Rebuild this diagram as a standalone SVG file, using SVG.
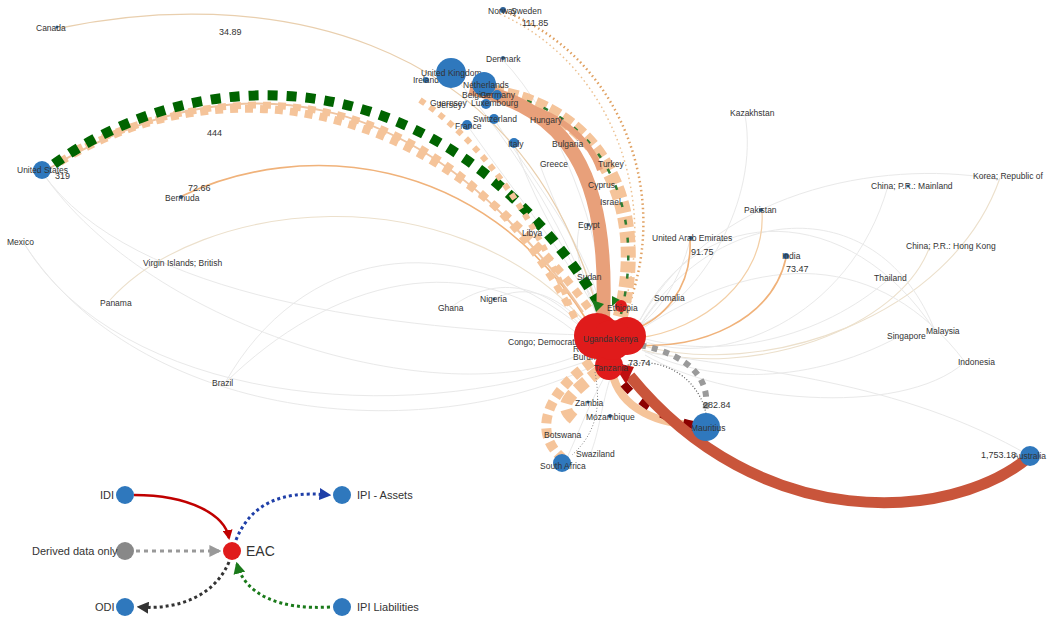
<svg xmlns="http://www.w3.org/2000/svg" width="1049" height="624" viewBox="0 0 1049 624">
<style>
text{font-family:"Liberation Sans",Arial,sans-serif;}
.lbl{font-size:8.5px;fill:#333;}
.num{font-size:9px;fill:#333;}
.leg{font-size:11px;fill:#333;}
.faint{fill:none;stroke:#e9e9e9;stroke-width:1;}
.beige{fill:none;stroke:#ece0cc;stroke-width:1.1;}
.blue{fill:#2f78bd;}
.dot{fill:#2b5f94;}
.red{fill:#e01b1b;}
</style>
<defs>
<marker id="mRed" viewBox="0 0 10 10" refX="8" refY="5" markerWidth="4" markerHeight="4" orient="auto"><path d="M0 0L10 5L0 10z" fill="#c00000"/></marker>
<marker id="mBlue" viewBox="0 0 10 10" refX="8" refY="5" markerWidth="4" markerHeight="4" orient="auto"><path d="M0 0L10 5L0 10z" fill="#1f3fa8"/></marker>
<marker id="mGray" viewBox="0 0 10 10" refX="8" refY="5" markerWidth="4" markerHeight="4" orient="auto"><path d="M0 0L10 5L0 10z" fill="#999"/></marker>
<marker id="mDark" viewBox="0 0 10 10" refX="8" refY="5" markerWidth="4" markerHeight="4" orient="auto"><path d="M0 0L10 5L0 10z" fill="#333"/></marker>
<marker id="mGreen" viewBox="0 0 10 10" refX="8" refY="5" markerWidth="4" markerHeight="4" orient="auto"><path d="M0 0L10 5L0 10z" fill="#1a7a1a"/></marker>
</defs>
<rect width="1049" height="624" fill="#fff"/>
<g id="connectors">
<path class="faint" d="M42 172 C150 330 450 420 590 350"/>
<path class="faint" d="M42 172 C130 300 400 330 585 335"/>
<path class="faint" d="M25 245 C120 400 400 430 590 360"/>
<path class="faint" d="M25 245 C140 420 420 450 595 365"/>
<path class="faint" d="M225 383 C300 250 450 220 585 330"/>
<path class="faint" d="M225 383 C330 280 470 240 585 340"/>
<path class="beige" d="M110 300 C200 200 450 170 585 322"/>
<path class="faint" d="M450 308 C500 270 550 290 580 325"/>
<path class="faint" d="M492 300 C530 280 560 300 582 322"/>
<path class="beige" d="M1000 178 C950 320 760 380 640 345"/>
<path class="faint" d="M888 186 C850 320 720 370 640 340"/>
<path class="beige" d="M930 246 C900 330 750 380 642 350"/>
<path class="faint" d="M890 278 C820 340 720 360 642 338"/>
<path class="faint" d="M935 331 C850 200 700 200 640 320"/>
<path class="faint" d="M900 336 C800 390 700 380 642 350"/>
<path class="faint" d="M965 362 C900 420 720 400 645 355"/>
<path class="faint" d="M640 320 C720 180 900 160 1000 180"/>
<path class="faint" d="M640 325 C720 200 880 190 935 331"/>
<path class="faint" d="M745 115 C760 200 700 300 640 325"/>
<path class="faint" d="M1030 456 C900 380 750 370 645 352"/>
<path class="faint" d="M640 330 C760 250 880 250 965 362"/>
<path class="faint" d="M467 125 C520 200 570 260 598 315"/>
<path class="faint" d="M514 143 C540 220 580 270 600 314"/>
<path class="faint" d="M450 72 C520 150 570 240 596 314"/>
<path class="faint" d="M502 59 C560 120 600 230 606 314"/>
<path class="faint" d="M494 119 C540 190 590 250 602 314"/>
<path class="faint" d="M580 225 C570 260 590 290 604 314"/>
<path class="faint" d="M540 165 C560 220 590 270 600 314"/>
<path class="faint" d="M610 368 C590 400 580 430 566 460"/>
<path class="faint" d="M612 372 C600 410 600 430 590 455"/>
<path class="faint" d="M690 240 C680 280 660 310 640 325"/>
<path class="faint" d="M660 300 C650 310 645 320 640 325"/>
<path d="M60 28 C250 -12 520 20 598 312" fill="none" stroke="#e9cfae" stroke-width="1.3"/>
<path d="M182 196 C300 140 480 150 588 322" fill="none" stroke="#f0b27a" stroke-width="1.6"/>
<path d="M690 240 C692 290 662 320 632 330" fill="none" stroke="#f0b27a" stroke-width="1.6"/>
<path d="M786 258 C772 320 700 350 636 345" fill="none" stroke="#f0b27a" stroke-width="1.6"/>
<path d="M762 212 C766 280 702 330 638 338" fill="none" stroke="#f3cfa6" stroke-width="1.2"/>
<path d="M506 12 C625 60 672 200 626 312" fill="none" stroke="#e0a060" stroke-width="2.5" stroke-dasharray="1.5 3"/>
<path d="M500 14 C612 64 660 200 622 312" fill="none" stroke="#ecc090" stroke-width="1.5" stroke-dasharray="1.5 3"/>
<path d="M60 162 C200 75 420 75 590 310" fill="none" stroke="#f5c49a" stroke-width="8" stroke-dasharray="8 7"/>
<path d="M50 168 C230 60 420 75 583 312" fill="none" stroke="#f0c4a0" stroke-width="2"/>
<path d="M75 150 C260 60 460 100 575 318" fill="none" stroke="#f5c49a" stroke-width="7" stroke-dasharray="8 7"/>
<path d="M54 164 C200 60 440 50 600 305" fill="none" stroke="#006400" stroke-width="10" stroke-dasharray="10 9"/>
<path d="M420 100 C480 140 540 220 575 320" fill="none" stroke="#f5c49a" stroke-width="6" stroke-dasharray="6 6"/>
<path d="M492 92 C605 110 648 210 620 318" fill="none" stroke="#f5c49a" stroke-width="15" stroke-dasharray="11 4"/>
<path d="M492 92 C605 110 648 210 620 318" fill="none" stroke="#2e7d32" stroke-width="2.5" stroke-dasharray="5 13"/>
<path d="M470 88 C565 108 610 170 603 318" fill="none" stroke="#e8a07a" stroke-width="14"/>
<path d="M500 100 C560 110 590 140 600 170" fill="none" stroke="#e8a07a" stroke-width="6"/>
<path d="M592 362 C550 390 530 430 562 458" fill="none" stroke="#f5c49a" stroke-width="10" stroke-dasharray="9 5"/>
<path d="M600 370 C570 395 555 405 575 420" fill="none" stroke="#f5c49a" stroke-width="12" stroke-dasharray="12 6"/>
<path d="M612 372 C620 410 660 425 700 425" fill="none" stroke="#f5c49a" stroke-width="8"/>
<path d="M640 345 C690 355 712 380 705 412" fill="none" stroke="#9a9a9a" stroke-width="6" stroke-dasharray="6 6"/>
<path d="M622 367 C662 352 700 380 706 414" fill="none" stroke="#555" stroke-width="1.2" stroke-dasharray="1 2"/>
<path d="M595 372 C600 400 600 430 572 455" fill="none" stroke="#888" stroke-width="1" stroke-dasharray="1 2"/>
<path d="M693 425 C668 420 640 405 622 382" fill="none" stroke="#8b0000" stroke-width="8" stroke-dasharray="10 14"/>
<path d="M1028 458 C950 522 760 535 630 376" fill="none" stroke="#c9553b" stroke-width="11"/>
<path d="M612 362 L634 367 L626 384 z" fill="#c01010"/>
<path d="M592 300 L604 304 L596 312 z" fill="#1a7a1a"/>
<path d="M612 296 L620 300 L612 306 z" fill="#1a7a1a"/>
</g>
<g id="node-canada"><circle class="dot" cx="57" cy="27" r="1.5"/><text class="lbl" x="36" y="31">Canada</text></g>
<g id="node-us"><circle class="blue" cx="42" cy="170" r="9"/><text class="lbl" x="17" y="173">United States</text></g>
<g id="node-bermuda"><circle class="dot" cx="181" cy="197" r="2"/><text class="lbl" x="165" y="201">Bermuda</text></g>
<g id="node-mexico"><text class="lbl" x="7" y="245">Mexico</text></g>
<g id="node-vi"><text class="lbl" x="143" y="266">Virgin Islands; British</text></g>
<g id="node-panama"><text class="lbl" x="100" y="306">Panama</text></g>
<g id="node-brazil"><text class="lbl" x="212" y="386">Brazil</text></g>
<g id="node-ghana"><text class="lbl" x="438" y="311">Ghana</text></g>
<g id="node-nigeria"><circle class="dot" cx="494" cy="299" r="1.5"/><text class="lbl" x="480" y="302">Nigeria</text></g>
<g id="node-norway"><circle class="dot" cx="503" cy="10" r="3"/><text class="lbl" x="488" y="14">Norway</text></g>
<g id="node-sweden"><text class="lbl" x="511" y="14">Sweden</text></g>
<g id="node-denmark"><circle class="dot" cx="503" cy="58" r="2"/><text class="lbl" x="486" y="62">Denmark</text></g>
<g id="node-ireland"><circle class="blue" cx="426" cy="80" r="3"/><text class="lbl" x="413" y="83">Ireland</text></g>
<g id="node-uk"><circle class="blue" cx="451" cy="73" r="15"/><text class="lbl" x="421" y="76">United Kingdom</text></g>
<g id="node-netherlands"><circle class="blue" cx="484" cy="84" r="12"/><text class="lbl" x="463" y="88">Netherlands</text></g>
<g id="node-germany"><circle class="blue" cx="497" cy="95" r="5"/><text class="lbl" x="480" y="98">Germany</text></g>
<g id="node-belgium"><text class="lbl" x="462" y="98">Belgium</text></g>
<g id="node-luxembourg"><circle class="blue" cx="486" cy="104" r="5"/><text class="lbl" x="471" y="106">Luxembourg</text></g>
<g id="node-guernsey"><text class="lbl" x="430" y="106">Guernsey</text></g>
<g id="node-jersey"><text class="lbl" x="437" y="108">Jersey</text></g>
<g id="node-switzerland"><circle class="blue" cx="494" cy="119" r="5"/><text class="lbl" x="473" y="122">Switzerland</text></g>
<g id="node-france"><circle class="blue" cx="467" cy="125" r="5"/><text class="lbl" x="455" y="129">France</text></g>
<g id="node-hungary"><text class="lbl" x="530" y="123">Hungary</text></g>
<g id="node-italy"><circle class="blue" cx="514" cy="143" r="5"/><text class="lbl" x="508" y="147">Italy</text></g>
<g id="node-bulgaria"><text class="lbl" x="552" y="147">Bulgaria</text></g>
<g id="node-greece"><text class="lbl" x="540" y="167">Greece</text></g>
<g id="node-turkey"><text class="lbl" x="598" y="167">Turkey</text></g>
<g id="node-cyprus"><text class="lbl" x="588" y="188">Cyprus</text></g>
<g id="node-israel"><text class="lbl" x="600" y="205">Israel</text></g>
<g id="node-egypt"><circle class="dot" cx="588" cy="225" r="1.5"/><text class="lbl" x="578" y="228">Egypt</text></g>
<g id="node-libya"><text class="lbl" x="522" y="236">Libya</text></g>
<g id="node-sudan"><text class="lbl" x="577" y="280">Sudan</text></g>
<g id="node-somalia"><text class="lbl" x="654" y="301">Somalia</text></g>
<g id="node-uae"><circle class="dot" cx="691" cy="238" r="2"/><text class="lbl" x="652" y="241">United Arab Emirates</text></g>
<g id="node-pakistan"><circle class="dot" cx="761" cy="210" r="2"/><text class="lbl" x="744" y="213">Pakistan</text></g>
<g id="node-india"><circle class="dot" cx="786" cy="256" r="3"/><text class="lbl" x="782" y="259">India</text></g>
<g id="node-kazakhstan"><text class="lbl" x="730" y="116">Kazakhstan</text></g>
<g id="node-china"><circle class="dot" cx="908" cy="186" r="1.5"/><text class="lbl" x="871" y="189">China; P.R.: Mainland</text></g>
<g id="node-korea"><text class="lbl" x="973" y="179">Korea; Republic of</text></g>
<g id="node-hk"><text class="lbl" x="906" y="249">China; P.R.: Hong Kong</text></g>
<g id="node-thailand"><text class="lbl" x="874" y="281">Thailand</text></g>
<g id="node-singapore"><text class="lbl" x="887" y="339">Singapore</text></g>
<g id="node-malaysia"><text class="lbl" x="926" y="334">Malaysia</text></g>
<g id="node-indonesia"><text class="lbl" x="958" y="365">Indonesia</text></g>
<g id="node-congo"><text class="lbl" x="508" y="345">Congo; Democratic Republic of</text></g>
<g id="node-rwanda"><text class="lbl" x="573" y="352">Rwanda</text></g>
<g id="node-burundi"><text class="lbl" x="573" y="360">Burundi</text></g>
<g id="node-ethiopia"><circle class="red" cx="621" cy="306" r="6"/><text class="lbl" x="607" y="311">Ethiopia</text></g>
<g id="node-hub">
<circle class="red" cx="597" cy="336" r="23"/>
<circle class="red" cx="627" cy="336" r="19"/>
<circle class="red" cx="609" cy="366" r="14"/>
<circle class="red" cx="612" cy="340" r="20"/>
</g>
<g id="node-uganda"><text class="lbl" x="583" y="342">Uganda</text></g>
<g id="node-kenya"><text class="lbl" x="614" y="342">Kenya</text></g>
<g id="node-tanzania"><text class="lbl" x="594" y="371">Tanzania</text></g>
<g id="node-zambia"><circle class="dot" cx="588" cy="402" r="1.5"/><text class="lbl" x="575" y="406">Zambia</text></g>
<g id="node-mozambique"><circle class="dot" cx="610" cy="416" r="2"/><text class="lbl" x="586" y="420">Mozambique</text></g>
<g id="node-botswana"><text class="lbl" x="544" y="438">Botswana</text></g>
<g id="node-swaziland"><text class="lbl" x="576" y="457">Swaziland</text></g>
<g id="node-southafrica"><circle class="blue" cx="562" cy="463" r="9"/><text class="lbl" x="540" y="469">South Africa</text></g>
<g id="node-mauritius"><circle class="blue" cx="706" cy="427" r="14"/><text class="lbl" x="691" y="431">Mauritius</text></g>
<g id="node-australia"><circle class="blue" cx="1030" cy="456" r="10"/><text class="lbl" x="1013" y="459">Australia</text></g>
<g id="values">
<text class="num" x="522" y="26">111.85</text>
<text class="num" x="219" y="35">34.89</text>
<text class="num" x="207" y="136">444</text>
<text class="num" x="55" y="179">319</text>
<text class="num" x="188" y="191">72.66</text>
<text class="num" x="691" y="255">91.75</text>
<text class="num" x="786" y="272">73.47</text>
<text class="num" x="628" y="366">73.74</text>
<text class="num" x="703" y="408">282.84</text>
<text class="num" x="981" y="458">1,753.18</text>
</g>
<g id="legend-edges">
<path d="M134 495 C190 495 225 515 229 538" fill="none" stroke="#c00000" stroke-width="2.5" marker-end="url(#mRed)"/>
<path d="M236 540 C250 505 280 490 329 495" fill="none" stroke="#1f3fa8" stroke-width="3" stroke-dasharray="3 3" marker-end="url(#mBlue)"/>
<path d="M136 551 L219 551" fill="none" stroke="#999" stroke-width="3" stroke-dasharray="4 4" marker-end="url(#mGray)"/>
<path d="M229 562 C215 595 180 610 139 607" fill="none" stroke="#333" stroke-width="3" stroke-dasharray="3 3" marker-end="url(#mDark)"/>
<path d="M330 607 C280 610 245 595 237 564" fill="none" stroke="#1a7a1a" stroke-width="3" stroke-dasharray="3 3" marker-end="url(#mGreen)"/>
</g>
<g id="legend-idi"><circle class="blue" cx="125" cy="495" r="9"/><text class="leg" x="100" y="499">IDI</text></g>
<g id="legend-derived"><circle cx="125" cy="551" r="9" fill="#888"/><text class="leg" x="32" y="555">Derived data only</text></g>
<g id="legend-odi"><circle class="blue" cx="125" cy="607" r="9"/><text class="leg" x="95" y="611">ODI</text></g>
<g id="legend-eac"><circle class="red" cx="232" cy="551" r="9"/><text x="246" y="556" style="font-size:14px;fill:#333">EAC</text></g>
<g id="legend-ipia"><circle class="blue" cx="342" cy="495" r="9"/><text class="leg" x="357" y="499">IPI - Assets</text></g>
<g id="legend-ipil"><circle class="blue" cx="342" cy="607" r="9"/><text class="leg" x="357" y="611">IPI Liabilities</text></g>
</svg>
